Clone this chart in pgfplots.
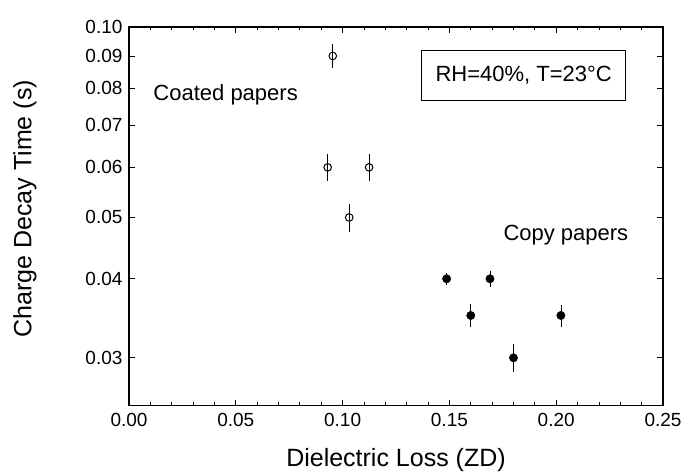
\documentclass[border=0pt]{standalone}
\usepackage{fontspec}
\setmainfont{Liberation Sans}
\usepackage{pgfplots}
\pgfplotsset{compat=1.18}
\begin{document}
\begin{tikzpicture}
\useasboundingbox (-129bp,-66.3bp) rectangle (553bp,405.7bp);
\begin{axis}[
  at={(0,0)}, anchor=south west,
  scale only axis,
  width=534bp, height=378.7bp,
  xmin=0, xmax=0.25,
  ymode=log, ymin=0.0252, ymax=0.1,
  xtick={0,0.05,0.10,0.15,0.20,0.25},
  xticklabels={0.00,0.05,0.10,0.15,0.20,0.25},
  minor x tick num=4,
  ytick={0.03,0.04,0.05,0.06,0.07,0.08,0.09,0.10},
  yticklabels={0.03,0.04,0.05,0.06,0.07,0.08,0.09,0.10},
  yminorticks=false,
  tick align=inside,
  major tick length=6bp, minor tick length=3.5bp,
  axis line style={line width=1.2bp},
  every tick/.style={line width=0.8bp, black},
  tick label style={font=\fontsize{19bp}{21bp}\selectfont},
  xticklabel style={yshift=-4bp},
  yticklabel style={xshift=-3bp},
  label style={font=\fontsize{25bp}{28bp}\selectfont},
  xlabel={Dielectric Loss (ZD)},
  ylabel={Charge Decay Time (s)},
  xlabel style={at={(axis description cs:0.5,-0.1434)}, anchor=center},
  ylabel style={at={(axis description cs:-0.195,0.52)}, anchor=center},
  clip=false,
]
\addplot[only marks, mark=o, mark size=3.8bp, mark options={line width=1bp, fill=white},
  error bars/.cd, y dir=both, y explicit, error mark=none,
  error bar style={line width=0.7bp}]
  table[x=x, y=y, y error=e] {
  x y e
  0.0954 0.090 0.0040
  0.0930 0.060 0.0030
  0.1124 0.060 0.0030
  0.1031 0.050 0.0025
};
\addplot[only marks, mark=*, mark size=4.2bp, mark options={black},
  error bars/.cd, y dir=both, y explicit, error mark=none,
  error bar style={line width=0.7bp}]
  table[x=x, y=y, y error=e] {
  x y e
  0.1487 0.040 0.0009
  0.1690 0.040 0.0012
  0.1600 0.035 0.0015
  0.2022 0.035 0.0014
  0.1800 0.030 0.0015
};
\node[anchor=base west, inner sep=0, font=\fontsize{22bp}{24bp}\selectfont] at (rel axis cs:0.0455,0.8072) {Coated papers};
\node[anchor=base west, inner sep=0, font=\fontsize{22bp}{24bp}\selectfont] at (rel axis cs:0.701,0.4357) {Copy papers};
\node[draw, line width=0.9bp, fill=white, minimum width=204bp, minimum height=50.7bp, inner sep=0, anchor=center, font=\fontsize{22bp}{24bp}\selectfont] at (rel axis cs:0.7391,0.8723) {RH=40\%, T=23°C};
\end{axis}
\end{tikzpicture}
\end{document}
